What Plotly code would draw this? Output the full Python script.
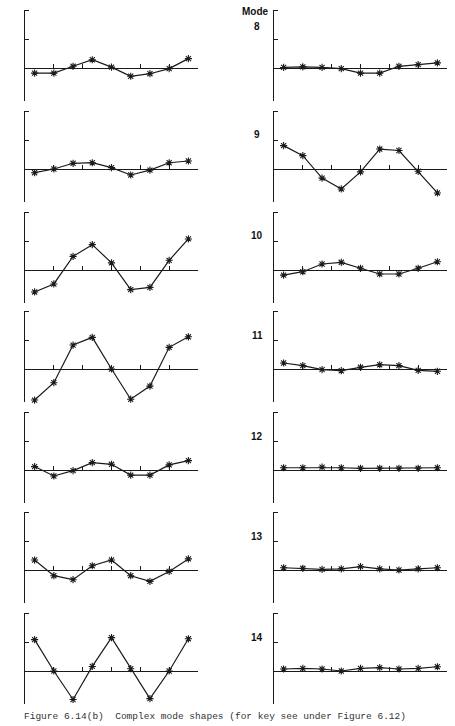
import plotly.graph_objects as go

W, H = 455, 726

# ---- data -------------------------------------------------------------
stations = [1, 2, 3, 4, 5, 6, 7, 8, 9]
modes = [8, 9, 10, 11, 12, 13, 14]

mode8_left = [-0.18, -0.18, 0.06, 0.29, 0.03, -0.29, -0.2, -0.02, 0.33]
mode8_right = [0.02, 0.04, 0.02, -0.02, -0.18, -0.18, 0.06, 0.12, 0.18]
mode9_left = [-0.13, 0.0, 0.2, 0.22, 0.05, -0.21, -0.04, 0.22, 0.28]
mode9_right = [0.82, 0.47, -0.32, -0.70, -0.1, 0.70, 0.65, -0.08, -0.84]
mode10_left = [-0.77, -0.49, 0.48, 0.89, 0.25, -0.69, -0.61, 0.34, 1.09]
mode10_right = [-0.18, -0.06, 0.21, 0.27, 0.06, -0.14, -0.14, 0.06, 0.29]
mode11_left = [-1.09, -0.48, 0.84, 1.11, 0.0, -1.06, -0.6, 0.76, 1.13]
mode11_right = [0.21, 0.12, -0.02, -0.06, 0.06, 0.15, 0.12, -0.05, -0.08]
mode12_left = [0.12, -0.21, -0.02, 0.26, 0.2, -0.18, -0.18, 0.18, 0.33]
mode12_right = [0.08, 0.08, 0.1, 0.08, 0.06, 0.06, 0.06, 0.06, 0.08]
mode13_left = [0.35, -0.2, -0.34, 0.15, 0.35, -0.2, -0.4, -0.05, 0.39]
mode13_right = [0.08, 0.06, 0.02, 0.04, 0.12, 0.04, 0.0, 0.04, 0.08]
mode14_left = [1.1, 0.0, -1.0, 0.16, 1.17, 0.08, -0.97, 0.0, 1.13]
mode14_right = [0.07, 0.09, 0.07, 0.0, 0.09, 0.12, 0.07, 0.09, 0.15]

left_col = [mode8_left, mode9_left, mode10_left, mode11_left,
            mode12_left, mode13_left, mode14_left]
right_col = [mode8_right, mode9_right, mode10_right, mode11_right,
             mode12_right, mode13_right, mode14_right]

x_ticks = [0.5, 2.0, 3.5, 5.0, 6.5, 8.0, 9.5]
y_ticks = [1, 2]
caption = "Figure 6.14(b)  Complex mode shapes (for key see under Figure 6.12)"

# ---- layout geometry (pixels) ----------------------------------------
row_zero_px = [68, 169, 270, 369, 470, 570, 671]
col_x_px = [(25, 198), (274, 447)]
unit_px = 28.5
y_lo, y_hi = -1.15, 2.05


def py(px):
    return 1 - px / H


fig = go.Figure()
layout = dict(
    width=W, height=H,
    margin=dict(l=0, r=0, t=0, b=0),
    paper_bgcolor="white", plot_bgcolor="rgba(0,0,0,0)",
    showlegend=False,
    font=dict(family="Liberation Sans, Arial, sans-serif", color="#111"),
)

ink = "#1a1a1a"
n = 0
for r, mode in enumerate(modes):
    z = row_zero_px[r]
    for c, col in enumerate([left_col, right_col]):
        n += 1
        xs = "" if n == 1 else str(n)
        x0, x1 = col_x_px[c]
        layout["xaxis" + xs] = dict(
            domain=[x0 / W, x1 / W], range=[0.5, 9.5],
            anchor="free", position=py(z),
            showline=True, linecolor=ink, linewidth=1.2,
            ticks="inside", tickvals=x_ticks, ticklen=4, tickcolor=ink,
            tickwidth=1, showticklabels=False, showgrid=False, zeroline=False,
            fixedrange=True,
        )
        layout["yaxis" + xs] = dict(
            domain=[py(z - y_lo * unit_px), py(z - y_hi * unit_px)],
            range=[y_lo, y_hi], anchor="x" + xs,
            showline=True, linecolor=ink, linewidth=1.2,
            ticks="inside", tickvals=y_ticks, ticklen=4, tickcolor=ink,
            tickwidth=1, showticklabels=False, showgrid=False, zeroline=False,
            fixedrange=True,
        )
        fig.add_trace(go.Scatter(
            x=stations, y=col[r], xaxis="x" + xs, yaxis="y" + xs,
            mode="lines+markers", cliponaxis=False,
            line=dict(color=ink, width=1.2),
            marker=dict(symbol="asterisk-open", size=6,
                        line=dict(color=ink, width=1.1), color=ink),
            hoverinfo="skip",
        ))

annotations = [dict(text="<b>Mode</b>", x=255 / W, y=py(12), xref="paper",
                    yref="paper", showarrow=False, xanchor="center",
                    yanchor="middle", font=dict(size=10))]
for r, mode in enumerate(modes):
    ly = 27 if r == 0 else row_zero_px[r] - 34
    annotations.append(dict(text="<b>%d</b>" % mode, x=257 / W, y=py(ly),
                            xref="paper", yref="paper", showarrow=False,
                            xanchor="center", yanchor="middle",
                            font=dict(size=10)))
annotations.append(dict(text=caption, x=22 / W, y=py(716), xref="paper",
                        yref="paper", showarrow=False, xanchor="left",
                        yanchor="middle",
                        font=dict(size=9.5, family="Liberation Mono, Courier New, monospace",
                                  color="#333")))
layout["annotations"] = annotations
fig.update_layout(**layout)
fig.write_html("out.html")
